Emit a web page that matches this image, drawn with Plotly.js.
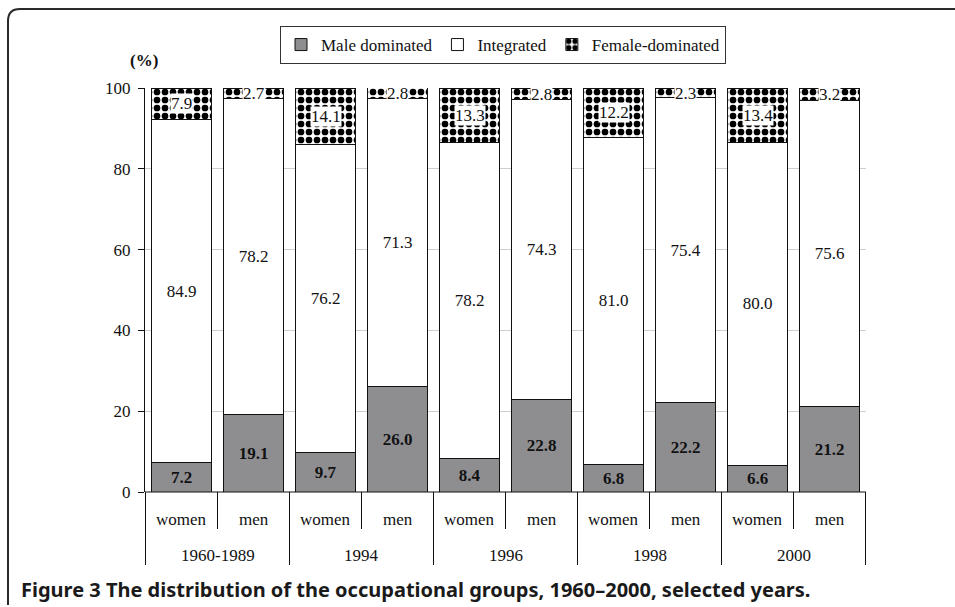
<!DOCTYPE html>
<html>
<head>
<meta charset="utf-8">
<script src="https://cdn.plot.ly/plotly-3.0.1.min.js"></script>
<style>html,body{margin:0;padding:0;background:#fff;}</style>
</head>
<body>
<div id="chart" style="width:955px;height:607px;"></div>
<script>
const years = ["1960-1989","1960-1989","1994","1994","1996","1996","1998","1998","2000","2000"];
const sexes = ["women","men","women","men","women","men","women","men","women","men"];
const maleDominated = [7.2, 19.1, 9.7, 26.0, 8.4, 22.8, 6.8, 22.2, 6.6, 21.2];
const integrated = [84.9, 78.2, 76.2, 71.3, 78.2, 74.3, 81.0, 75.4, 80.0, 75.6];
const femaleDominated = [7.9, 2.7, 14.1, 2.8, 13.3, 2.8, 12.2, 2.3, 13.4, 3.2];
const yTicks = [0, 20, 40, 60, 80, 100];

const serif = "Liberation Serif, Times New Roman, serif";
const FS = 17;
const x = [years, sexes];

const traces = [
  {
    type: "bar", name: "Male dominated", x: x, y: maleDominated,
    marker: {color: "#8e8e91", line: {color: "#111", width: 1}},
    texttemplate: "<b>%{y:.1f}</b>", textposition: "inside", insidetextanchor: "middle",
    constraintext: "none",
    textfont: {family: serif, size: FS, color: "#111"},
    hoverinfo: "skip"
  },
  {
    type: "bar", name: "Integrated", x: x, y: integrated,
    marker: {color: "#ffffff", line: {color: "#111", width: 1}},
    texttemplate: "%{y:.1f}", textposition: "inside", insidetextanchor: "middle",
    constraintext: "none",
    textfont: {family: serif, size: FS, color: "#111"},
    hoverinfo: "skip"
  },
  {
    type: "bar", name: "Female-dominated", x: x, y: femaleDominated,
    marker: {color: "#ffffff", line: {color: "#111", width: 1},
      pattern: {shape: ".", fgcolor: "#000", fgopacity: 1, bgcolor: "#fff", size: 8, solidity: 0.55, fillmode: "overlay"}},
    textposition: "none",
    hoverinfo: "skip"
  }
];

const L = 145, R = 866, T = 88, B = 492, W = 955, H = 607;
const px = v => (v - L) / (R - L);
const py = v => (B - v) / (B - T);

// female-dominated labels centred in their segments, white background
const annotations = femaleDominated.map((v, i) => ({
  xref: "x", yref: "y", x: i,
  y: maleDominated[i] + integrated[i] + v / 2,
  text: v.toFixed(1), showarrow: false,
  font: {family: serif, size: FS, color: "#111"},
  bgcolor: "#ffffff", borderpad: 0
}));

// category labels (women / men) and group labels (years)
sexes.forEach((s, i) => annotations.push({
  xref: "x", yref: "paper", x: i, y: py(519), yanchor: "middle",
  text: s, showarrow: false, font: {family: serif, size: FS, color: "#111"}
}));
const groups = [];
years.forEach((yv, i) => {
  if (!groups.length || groups[groups.length - 1].name !== yv) groups.push({name: yv, first: i, last: i});
  else groups[groups.length - 1].last = i;
});
groups.forEach(g => annotations.push({
  xref: "x", yref: "paper", x: (g.first + g.last) / 2, y: py(555), yanchor: "middle",
  text: g.name, showarrow: false, font: {family: serif, size: FS, color: "#111"}
}));

annotations.push({
  xref: "paper", yref: "paper", x: px(128), y: py(49), text: "<b>(%)</b>",
  showarrow: false, font: {family: serif, size: FS, color: "#111"}
});
annotations.push({
  xref: "paper", yref: "paper", x: px(19), y: py(589), xanchor: "left", yanchor: "middle",
  text: "<b>Figure 3 The distribution of the occupational groups, 1960–2000, selected years.</b>",
  showarrow: false, font: {family: "Noto Sans, Open Sans, sans-serif", size: 20, color: "#1a1a1a"}
});

const r = 12;
const framePath = `M ${px(8)},${py(605)} L ${px(8)},${py(9 + r)} Q ${px(8)},${py(9)} ${px(8 + r)},${py(9)} L ${px(960)},${py(9)}`;

const shapes = [
  {type: "path", xref: "paper", yref: "paper", path: framePath,
   line: {color: "#2a2a2a", width: 2}, fillcolor: "rgba(0,0,0,0)"},
  {type: "line", xref: "paper", yref: "paper", x0: 0, x1: 1, y0: 0, y1: 0,
   line: {color: "#111", width: 1}}
];
// category boundaries: short ticks inside a group, long dividers between groups
for (let i = 0; i <= years.length; i++) {
  const inner = i > 0 && i < years.length && years[i] === years[i - 1];
  shapes.push({
    type: "line", xref: "x", yref: "paper", x0: i - 0.5, x1: i - 0.5,
    y0: 0, y1: py(inner ? 529 : 565), line: {color: "#111", width: 1}
  });
}

const layout = {
  width: W, height: H,
  margin: {l: L, r: W - R, t: T, b: H - B, pad: 0},
  paper_bgcolor: "#fff", plot_bgcolor: "#fff",
  barmode: "stack", bargap: 0.167,
  showlegend: true,
  legend: {
    orientation: "h", x: px(503), xanchor: "center", y: py(26), yanchor: "top",
    bordercolor: "#333", borderwidth: 1, bgcolor: "#fff",
    font: {family: serif, size: FS, color: "#111"},
    itemwidth: 30, traceorder: "normal", tracegroupgap: 0
  },
  xaxis: {
    type: "multicategory",
    showline: false, showgrid: false, zeroline: false,
    showticklabels: false, ticks: "", showdividers: false
  },
  yaxis: {
    range: [0, 100], tickvals: yTicks, ticktext: yTicks.map(String),
    showline: true, linecolor: "#111", linewidth: 1,
    ticks: "outside", ticklen: 6, tickcolor: "#111", ticklabelstandoff: 4,
    showgrid: true, gridcolor: "#cfcfcf", gridwidth: 1, zeroline: false,
    tickfont: {family: serif, size: FS, color: "#111"}
  },
  annotations: annotations,
  shapes: shapes
};

Plotly.newPlot("chart", traces, layout, {displayModeBar: false, staticPlot: true});
</script>
</body>
</html>
